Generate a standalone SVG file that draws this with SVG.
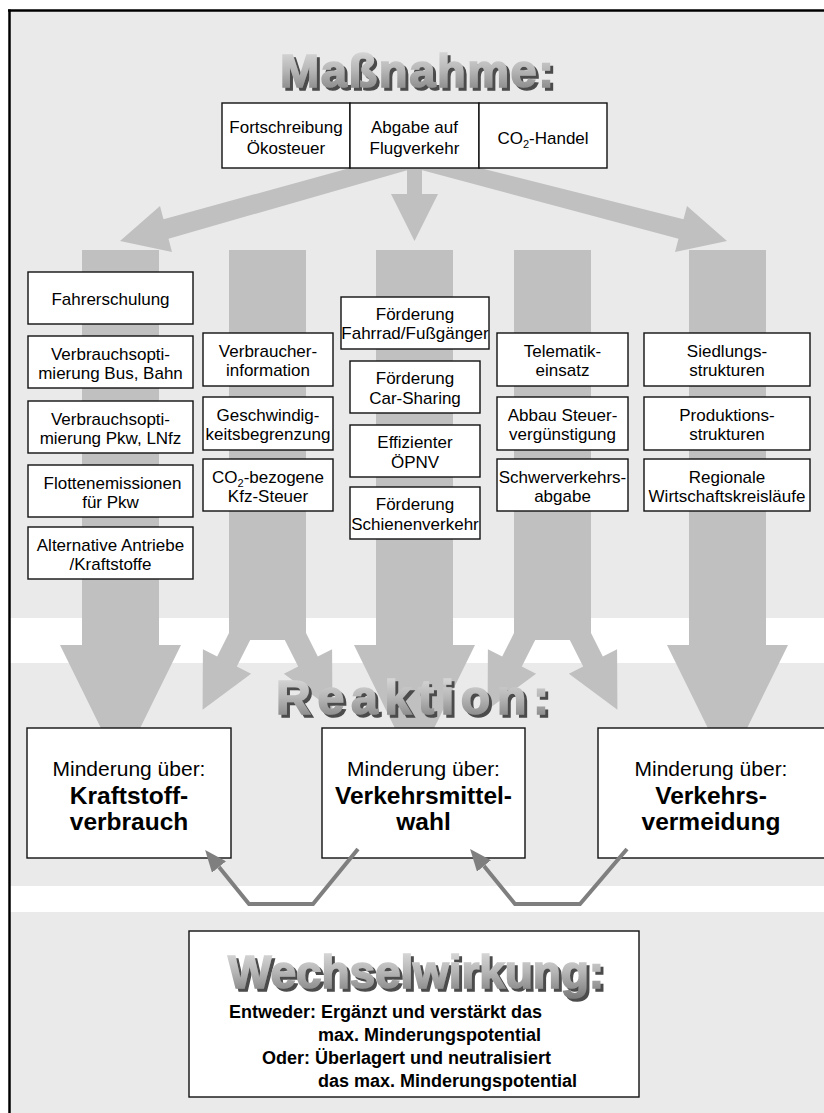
<svg xmlns="http://www.w3.org/2000/svg" width="824" height="1113" viewBox="0 0 824 1113">
<defs>
<linearGradient id="wa" x1="0" y1="0" x2="0" y2="1">
<stop offset="0" stop-color="#e2e2e2"/>
<stop offset="0.5" stop-color="#b6b6b6"/>
<stop offset="1" stop-color="#7a7a7a"/>
</linearGradient>
<filter id="sh" x="-5%" y="-15%" width="115%" height="140%">
<feOffset in="SourceAlpha" dx="3" dy="3" result="o"/>
<feFlood flood-color="#4c4c4c"/>
<feComposite in2="o" operator="in" result="s"/>
<feMerge><feMergeNode in="s"/><feMergeNode in="SourceGraphic"/></feMerge>
</filter>
<marker id="ah" markerUnits="userSpaceOnUse" markerWidth="22" markerHeight="18" viewBox="0 0 22 18" refX="0" refY="9" orient="auto">
<path d="M0,0 L22,9 L0,18 z" fill="#7f7f7f"/>
</marker>
<style>
.bg{fill:#eaeaea}
.band{fill:#ffffff}
.flow{fill:#c0c0c0}
.box{fill:#ffffff;stroke:#111111;stroke-width:1.4}
.t{font-family:"Liberation Sans",Arial,sans-serif;font-size:17px;fill:#000000;text-anchor:middle}
.big{font-family:"Liberation Sans",Arial,sans-serif;font-size:21px;fill:#000000;text-anchor:middle}
.bold{font-family:"Liberation Sans",Arial,sans-serif;font-size:24.5px;font-weight:bold;fill:#000000;text-anchor:middle}
.wt{font-family:"Liberation Sans",Arial,sans-serif;font-size:18px;font-weight:bold;fill:#000000}
.wa{font-family:"Liberation Sans",Arial,sans-serif;font-weight:bold;fill:url(#wa);stroke:url(#wa);stroke-width:1.6;filter:url(#sh)}
.conn{fill:none;stroke:#7f7f7f;stroke-width:4}
</style>
</defs>

<g id="background">
<rect class="bg" x="10" y="11" width="814" height="1102"/>
<rect class="band" x="10" y="618" width="814" height="45"/>
<rect class="band" x="10" y="886" width="814" height="26"/>
<line x1="9.5" y1="9.5" x2="9.5" y2="1113" stroke="#000" stroke-width="2.5"/>
<line x1="8" y1="10.5" x2="824" y2="10.5" stroke="#000" stroke-width="2.5"/>
</g>

<g id="connectors">
<polygon class="flow" points="82,250 159,250 159,645 181,645 120.5,768 60,645 82,645"/>
<polygon class="flow" points="229,250 306,250 306,633 317.8,656.5 332.1,649.3 332.4,709.7 283.9,673.7 298.2,666.5 284.8,640 250.2,640 236.8,666.5 251.1,673.7 202.6,709.7 202.9,649.3 217.2,656.5 229,633"/>
<polygon class="flow" points="376,250 453,250 453,645 475,645 414.5,768 354,645 376,645"/>
<polygon class="flow" points="514,250 591,250 591,633 602.8,656.5 617.1,649.3 617.4,709.7 568.9,673.7 583.2,666.5 569.8,640 535.2,640 521.8,666.5 536.1,673.7 487.6,709.7 487.9,649.3 502.2,656.5 514,633"/>
<polygon class="flow" points="689,250 766,250 766,645 788,645 727.5,768 667,645 689,645"/>
<polygon class="flow" points="350,168 163.5,219.3 160,206 120,241 172,252 168.5,238.7 415,168"/>
<polygon class="flow" points="407,168 407,194 391,194 414.5,241 438,194 422,194 422,168"/>
<polygon class="flow" points="480,168 683.5,219.3 687,206 727,241 675,252 678.5,238.7 414,168"/>
</g>

<g id="title-massnahme">
<text class="wa" x="280" y="87" font-size="47" textLength="274" lengthAdjust="spacing">Maßnahme:</text>
</g>

<g id="m-oekosteuer">
<rect class="box" x="222" y="103" width="128" height="65"/>
<text class="t" x="286" y="133">Fortschreibung</text>
<text class="t" x="286" y="154">Ökosteuer</text>
</g>
<g id="m-flugverkehr">
<rect class="box" x="350" y="103" width="129" height="65"/>
<text class="t" x="414.5" y="133">Abgabe auf</text>
<text class="t" x="414.5" y="154">Flugverkehr</text>
</g>
<g id="m-co2handel">
<rect class="box" x="479" y="103" width="128" height="65"/>
<text class="t" x="543" y="144">CO<tspan font-size="11" dy="4">2</tspan><tspan dy="-4">-Handel</tspan></text>
</g>

<g id="n-fahrerschulung">
<rect class="box" x="28" y="272" width="165" height="52"/>
<text class="t" x="110.5" y="305">Fahrerschulung</text>
</g>
<g id="n-bus-bahn">
<rect class="box" x="28" y="336" width="165" height="52"/>
<text class="t" x="110.5" y="359.5">Verbrauchsopti-</text>
<text class="t" x="110.5" y="379">mierung Bus, Bahn</text>
</g>
<g id="n-pkw-lnfz">
<rect class="box" x="28" y="401" width="165" height="52"/>
<text class="t" x="110.5" y="424.5">Verbrauchsopti-</text>
<text class="t" x="110.5" y="444">mierung Pkw, LNfz</text>
</g>
<g id="n-flotten">
<rect class="box" x="28" y="465" width="165" height="52"/>
<text class="t" x="112.5" y="488.5">Flottenemissionen</text>
<text class="t" x="110.5" y="508">für Pkw</text>
</g>
<g id="n-alternative">
<rect class="box" x="28" y="527" width="165" height="52"/>
<text class="t" x="110.5" y="550.5">Alternative Antriebe</text>
<text class="t" x="110.5" y="570">/Kraftstoffe</text>
</g>

<g id="n-verbraucherinfo">
<rect class="box" x="203" y="333" width="130" height="53"/>
<text class="t" x="268" y="356.5">Verbraucher-</text>
<text class="t" x="268" y="376">information</text>
</g>
<g id="n-tempolimit">
<rect class="box" x="203" y="397" width="130" height="53"/>
<text class="t" x="268" y="420.5">Geschwindig-</text>
<text class="t" x="268" y="440">keitsbegrenzung</text>
</g>
<g id="n-kfzsteuer">
<rect class="box" x="203" y="459" width="130" height="52"/>
<text class="t" x="268" y="482.5">CO<tspan font-size="11" dy="4">2</tspan><tspan dy="-4">-bezogene</tspan></text>
<text class="t" x="268" y="502">Kfz-Steuer</text>
</g>

<g id="n-fahrrad">
<rect class="box" x="341" y="297" width="148" height="52"/>
<text class="t" x="415" y="319.5">Förderung</text>
<text class="t" x="415" y="339">Fahrrad/Fußgänger</text>
</g>
<g id="n-carsharing">
<rect class="box" x="350" y="361" width="130" height="52"/>
<text class="t" x="415" y="384">Förderung</text>
<text class="t" x="415" y="403.5">Car-Sharing</text>
</g>
<g id="n-oepnv">
<rect class="box" x="350" y="425" width="130" height="52"/>
<text class="t" x="415" y="448">Effizienter</text>
<text class="t" x="415" y="467.5">ÖPNV</text>
</g>
<g id="n-schiene">
<rect class="box" x="350" y="487" width="130" height="52"/>
<text class="t" x="415" y="510">Förderung</text>
<text class="t" x="415" y="529.5">Schienenverkehr</text>
</g>

<g id="n-telematik">
<rect class="box" x="497" y="333" width="131" height="53"/>
<text class="t" x="562.5" y="356.5">Telematik-</text>
<text class="t" x="562.5" y="376">einsatz</text>
</g>
<g id="n-steuerverg">
<rect class="box" x="497" y="397" width="131" height="53"/>
<text class="t" x="562.5" y="420.5">Abbau Steuer-</text>
<text class="t" x="562.5" y="440">vergünstigung</text>
</g>
<g id="n-schwerverkehr">
<rect class="box" x="497" y="459" width="131" height="52"/>
<text class="t" x="562.5" y="482.5">Schwerverkehrs-</text>
<text class="t" x="562.5" y="502">abgabe</text>
</g>

<g id="n-siedlung">
<rect class="box" x="644" y="333" width="166" height="53"/>
<text class="t" x="727" y="356.5">Siedlungs-</text>
<text class="t" x="727" y="376">strukturen</text>
</g>
<g id="n-produktion">
<rect class="box" x="644" y="397" width="166" height="53"/>
<text class="t" x="727" y="420.5">Produktions-</text>
<text class="t" x="727" y="440">strukturen</text>
</g>
<g id="n-regional">
<rect class="box" x="644" y="459" width="166" height="52"/>
<text class="t" x="727" y="482.5">Regionale</text>
<text class="t" x="727" y="502">Wirtschaftskreisläufe</text>
</g>

<g id="title-reaktion">
<text class="wa" x="276" y="714" font-size="48" textLength="273" lengthAdjust="spacing">Reaktion:</text>
</g>

<g id="r-kraftstoff">
<rect class="box" x="27" y="728" width="204" height="130"/>
<text class="big" x="129" y="776">Minderung über:</text>
<text class="bold" x="129" y="804">Kraftstoff-</text>
<text class="bold" x="129" y="830">verbrauch</text>
</g>
<g id="r-verkehrsmittel">
<rect class="box" x="322" y="728" width="203" height="130"/>
<text class="big" x="423.5" y="776">Minderung über:</text>
<text class="bold" x="423.5" y="804">Verkehrsmittel-</text>
<text class="bold" x="423.5" y="830">wahl</text>
</g>
<g id="r-vermeidung">
<rect class="box" x="598" y="728" width="232" height="130"/>
<text class="big" x="711" y="776">Minderung über:</text>
<text class="bold" x="711" y="804">Verkehrs-</text>
<text class="bold" x="711" y="830">vermeidung</text>
</g>

<g id="interaction-connectors">
<path class="conn" d="M358,849 L313,904 L249,904 L219,867" marker-end="url(#ah)"/>
<path class="conn" d="M627,849 L580,904 L515,904 L484,866" marker-end="url(#ah)"/>
</g>

<g id="wechselwirkung">
<rect class="box" x="189" y="931" width="450" height="166"/>
<text class="wa" x="228" y="988" font-size="46" textLength="376" lengthAdjust="spacing">Wechselwirkung:</text>
<text class="wt" x="229" y="1018">Entweder: Ergänzt und verstärkt das</text>
<text class="wt" x="318" y="1041">max. Minderungspotential</text>
<text class="wt" x="262" y="1064">Oder: Überlagert und neutralisiert</text>
<text class="wt" x="318" y="1087">das max. Minderungspotential</text>
</g>
</svg>
